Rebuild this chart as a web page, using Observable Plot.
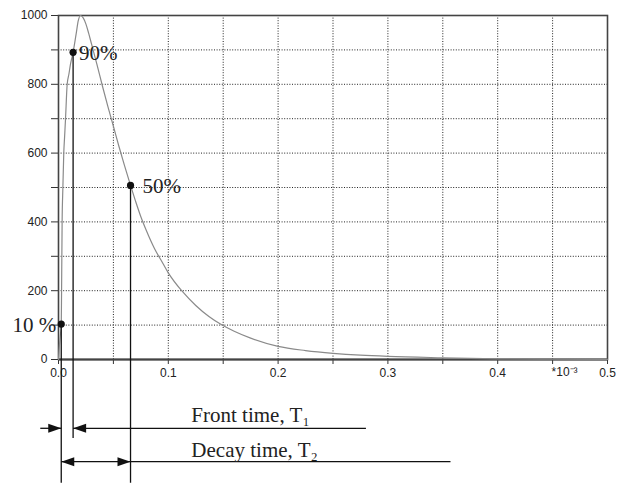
<!DOCTYPE html>
<html>
<head>
<meta charset="utf-8">
<script src="https://cdn.jsdelivr.net/npm/d3@7"></script>
<script src="https://cdn.jsdelivr.net/npm/@observablehq/plot@0.6"></script>
<style>
  html, body { margin: 0; padding: 0; background: #fff; }
  #chart svg { display: block; }
</style>
</head>
<body>
<div id="chart"></div>
<script>
// ---- data (time in ms, i.e. *10^-3 s; amplitude) ----
const curveT = [0, 0.0008, 0.0018, 0.0025, 0.0028, 0.0033, 0.0040, 0.0048, 0.0056, 0.0064, 0.0079, 0.0095, 0.011, 0.0133, 0.016, 0.018, 0.020, 0.0225, 0.025, 0.0275, 0.030, 0.035, 0.040, 0.045, 0.050, 0.055, 0.060, 0.0656, 0.070, 0.075, 0.080, 0.0875, 0.095, 0.100, 0.113, 0.125, 0.137, 0.149, 0.160, 0.175, 0.200, 0.225, 0.250, 0.275, 0.300, 0.350, 0.400, 0.450, 0.500];
const curveV = [0, 40, 75, 100, 200, 400, 500, 600, 650, 700, 800, 830, 860, 893, 945, 985, 1000, 993, 975, 948, 918, 858, 795, 735, 678, 620, 565, 506, 462, 415, 375, 322, 280, 252, 197, 157, 125, 100, 82, 62, 38, 26, 18, 12.5, 9, 5, 2, 1, 0.5];

const markerT = [0.0025, 0.0133, 0.0656];
const markerV = [103, 893, 506];
const markerLabels = ["10 %", "90%", "50%"];

const xMajorTicks = [0, 0.1, 0.2, 0.3, 0.4, 0.5];
const xMinorTicks = [0, 0.05, 0.1, 0.15, 0.2, 0.25, 0.3, 0.35, 0.4, 0.45, 0.5];
const xGrid = [0.05, 0.1, 0.15, 0.2, 0.25, 0.3, 0.35, 0.4, 0.45];
const yTicks = [0, 100, 200, 300, 400, 500, 600, 700, 800, 900, 1000];
const yLabeled = [0, 200, 400, 600, 800, 1000];
const yGrid = [100, 200, 300, 400, 500, 600, 700, 800, 900];
const unitLabel = "*10⁻³";
const unitT = [0.45];
const unitV = [-38];

// annotation (below axis, in data units)
const dropBottom = [-360, -230, -360];
const frontY = -200;
const decayY = -297;
const frontSegT = [[-0.0166, 0.0025], [0.0133, 0.28]];
const decaySegT = [[0.0025, 0.357]];
const headRightT = [0.0025, 0.0656];
const headRightY = [frontY, decayY];
const headLeftT = [0.0133, 0.0025];
const headLeftY = [frontY, decayY];
const annoText = ["Front time, T₁", "Decay time, T₂"];
const annoT = [0.121, 0.121];
const annoV = [-163, -263];

// ---- build tables ----
const curve = curveT.map((t, i) => ({t, v: curveV[i]}));
const markers = markerT.map((t, i) => ({t, v: markerV[i], label: markerLabels[i], bottom: dropBottom[i]}));
const segs = [
  ...frontSegT.map(([a, b]) => ({t1: a, t2: b, y: frontY})),
  ...decaySegT.map(([a, b]) => ({t1: a, t2: b, y: decayY}))
];
const headsR = headRightT.map((t, i) => ({t, y: headRightY[i]}));
const headsL = headLeftT.map((t, i) => ({t, y: headLeftY[i]}));
const annos = annoText.map((s, i) => ({s, t: annoT[i], v: annoV[i]}));
const unit = unitT.map((t, i) => ({t, v: unitV[i], s: unitLabel}));

const headRight = {draw(ctx) { ctx.moveTo(0, 0); ctx.lineTo(-13, -4.5); ctx.lineTo(-13, 4.5); ctx.closePath(); }};
const headLeft = {draw(ctx) { ctx.moveTo(0, 0); ctx.lineTo(13, -4.5); ctx.lineTo(13, 4.5); ctx.closePath(); }};

const serif = "'Liberation Serif', 'Times New Roman', 'DejaVu Serif', serif";
const ink = "#111";
const labelStyle = {x: "t", y: "v", text: "label", dy: 1, fontFamily: serif, fontSize: 21, fill: "#222"};

const chart = Plot.plot({
  width: 623,
  height: 483,
  marginLeft: 58,
  marginRight: 16,
  marginTop: 15,
  marginBottom: 124,
  style: {fontFamily: "'Liberation Sans', Arial, sans-serif", fontSize: "12px", color: "#222", background: "#fff"},
  x: {domain: [0, 0.5]},
  y: {domain: [0, 1000]},
  marks: [
    Plot.ruleX(xGrid, {stroke: "#222", strokeWidth: 1, strokeDasharray: "1,1.6"}),
    Plot.ruleY(yGrid, {stroke: "#222", strokeWidth: 1, strokeDasharray: "1,1.6"}),
    Plot.axisY({ticks: yTicks, tickSize: 7, tickPadding: 4, label: null,
      tickFormat: d => yLabeled.includes(d) ? String(d) : "", stroke: "#333"}),
    Plot.axisX({ticks: xMinorTicks, tickSize: 5, label: null, tickFormat: () => "", stroke: "#333"}),
    Plot.axisX({ticks: xMajorTicks, tickSize: 0, tickPadding: 9, label: null, tickFormat: d3.format(".1f")}),
    Plot.text(unit, {x: "t", y: "v", text: "s", textAnchor: "start", dx: -1, fill: "#222"}),
    Plot.frame({stroke: "#444", strokeWidth: 1.6}),
    Plot.ruleY([0], {stroke: "#444", strokeWidth: 2}),
    Plot.line(curve, {x: "t", y: "v", stroke: "#8a8a8a", strokeWidth: 1.2, curve: "monotone-x"}),
    Plot.ruleX(markers, {x: "t", y1: "v", y2: "bottom", stroke: ink, strokeWidth: 1.3}),
    Plot.dot(markers, {x: "t", y: "v", r: 3.6, fill: ink, stroke: null}),
    Plot.text(markers.filter(d => d.label === "90%"), {...labelStyle, textAnchor: "start", dx: 6}),
    Plot.text(markers.filter(d => d.label === "50%"), {...labelStyle, textAnchor: "start", dx: 12}),
    Plot.text(markers.filter(d => d.label === "10 %"), {...labelStyle, textAnchor: "end", dx: -5}),
    Plot.link(segs, {x1: "t1", x2: "t2", y1: "y", y2: "y", stroke: ink, strokeWidth: 1.3}),
    Plot.dot(headsR, {x: "t", y: "y", symbol: headRight, r: 4, fill: ink, stroke: null}),
    Plot.dot(headsL, {x: "t", y: "y", symbol: headLeft, r: 4, fill: ink, stroke: null}),
    Plot.text(annos, {x: "t", y: "v", text: "s", textAnchor: "start", fontFamily: serif, fontSize: 21, fill: "#222"})
  ]
});
document.getElementById("chart").appendChild(chart);
</script>
</body>
</html>
